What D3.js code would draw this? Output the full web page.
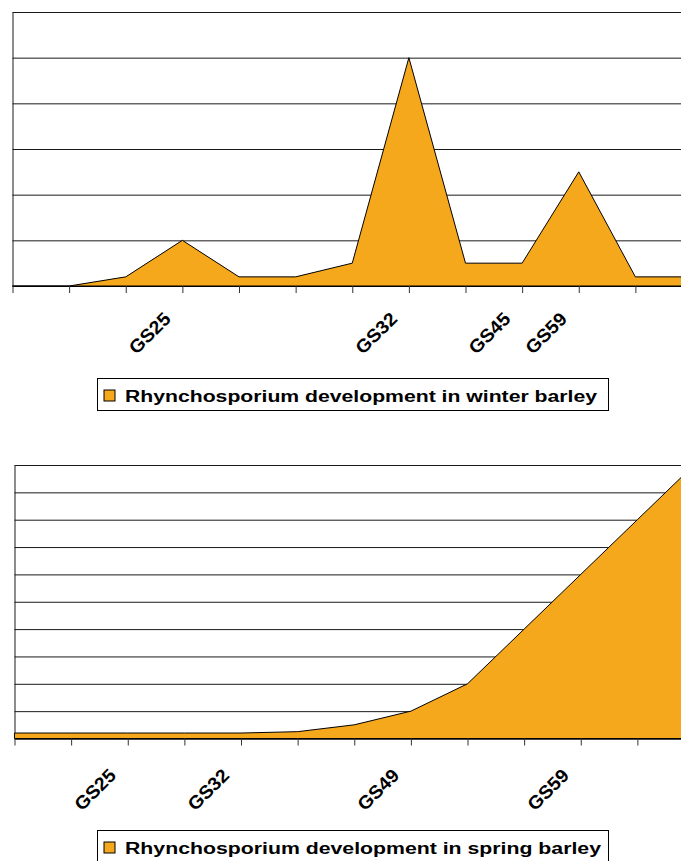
<!DOCTYPE html>
<html>
<head>
<meta charset="utf-8">
<script src="https://cdn.jsdelivr.net/npm/d3@7"></script>
<style>
  body { margin: 0; background: #fff; }
  svg { display: block; }
  text { font-family: "Liberation Sans", Arial, sans-serif; font-weight: bold; fill: #000; }
</style>
</head>
<body>
<div id="chart"></div>
<script>
//Width and height
var w = 681;
var h = 861;

//Categories (13 assessment dates), growth stage labels under some of them
var categories = [0, 1, 2, 3, 4, 5, 6, 7, 8, 9, 10, 11, 12];
var winterLabels = ["", "", "", "GS25", "", "", "", "GS32", "", "GS45", "GS59", "", ""];
var springLabels = ["", "", "GS25", "", "GS32", "", "", "GS49", "", "", "GS59", "", ""];

//Disease level
var winterValues = [0, 0, 2, 10, 2, 2, 5, 50, 5, 5, 25, 2, 2];
var springValues = [2, 2, 2, 2, 2, 2.5, 5, 10, 20, 40, 60, 80, 100];

var winterTitle = "Rhynchosporium development in winter barley";
var springTitle = "Rhynchosporium development in spring barley";

var fillColor = "#f5a81b";

//Create SVG element
var svg = d3.select("#chart")
    .append("svg")
    .attr("width", w)
    .attr("height", h);

function drawPanel(opt) {
    var x = d3.scalePoint()
        .domain(categories)
        .range([opt.left, opt.right]);

    var y = d3.scaleLinear()
        .domain([0, opt.max])
        .range([opt.bottom, opt.top]);

    var g = svg.append("g");

    //gridlines + left axis line
    var yAxis = d3.axisLeft(y)
        .tickValues(d3.range(0, opt.max + 1, opt.step))
        .tickSizeInner(-(opt.right - opt.left))
        .tickSizeOuter(0)
        .tickFormat("");

    g.append("g")
        .attr("transform", "translate(" + opt.left + ",0)")
        .call(yAxis)
        .call(function (s) {
            s.selectAll(".tick line").attr("stroke", "#1a1a1a");
            s.select(".domain").attr("stroke", "#1a1a1a");
        });

    //area
    var area = d3.area()
        .x(function (d, i) { return x(categories[i]); })
        .y0(y(0))
        .y1(function (d) { return y(d); });

    g.append("path")
        .datum(opt.values)
        .attr("d", area)
        .attr("fill", fillColor)
        .attr("stroke", "#000")
        .attr("stroke-width", 1)
        .attr("stroke-linejoin", "miter");

    //x axis with ticks and rotated labels
    var xAxis = d3.axisBottom(x)
        .tickSizeInner(7)
        .tickSizeOuter(0)
        .tickFormat(function (d, i) { return opt.labels[i]; });

    g.append("g")
        .attr("transform", "translate(0," + opt.bottom + ")")
        .call(xAxis)
        .call(function (s) {
            s.select(".domain").attr("stroke", "#000");
            s.selectAll(".tick line").attr("stroke", "#333");
            s.selectAll(".tick text")
                .attr("x", 0)
                .attr("y", 0)
                .attr("dy", 0)
                .attr("text-anchor", "end")
                .attr("font-family", "Liberation Sans, Arial, sans-serif")
                .attr("font-weight", "bold")
                .attr("font-size", 18.5)
                .attr("fill", "#000")
                .attr("transform", "translate(-11," + opt.labelDrop + ") rotate(-45)")
                .each(function () {
                    if (this.textContent !== "") {
                        d3.select(this)
                            .attr("textLength", 50)
                            .attr("lengthAdjust", "spacingAndGlyphs");
                    }
                });
        });

    //legend
    var lg = svg.append("g")
        .attr("transform", "translate(97.5," + opt.legendY + ")");

    lg.append("rect")
        .attr("width", 511)
        .attr("height", 32)
        .attr("fill", "#fff")
        .attr("stroke", "#000");

    lg.append("rect")
        .attr("x", 6.5)
        .attr("y", 11.5)
        .attr("width", 11)
        .attr("height", 11)
        .attr("fill", fillColor)
        .attr("stroke", "#000");

    lg.append("text")
        .attr("x", 27.5)
        .attr("y", 23.5)
        .attr("font-size", 16.8)
        .attr("textLength", opt.titleLength)
        .attr("lengthAdjust", "spacingAndGlyphs")
        .text(opt.title);
}

drawPanel({
    left: 12.5, right: 692, top: 12, bottom: 286,
    max: 60, step: 10,
    values: winterValues, labels: winterLabels,
    labelDrop: 34, legendY: 378.5,
    title: winterTitle, titleLength: 472
});

drawPanel({
    left: 14.5, right: 694, top: 465, bottom: 738.5,
    max: 100, step: 10,
    values: springValues, labels: springLabels,
    labelDrop: 38, legendY: 830.5,
    title: springTitle, titleLength: 476
});
</script>
</body>
</html>
